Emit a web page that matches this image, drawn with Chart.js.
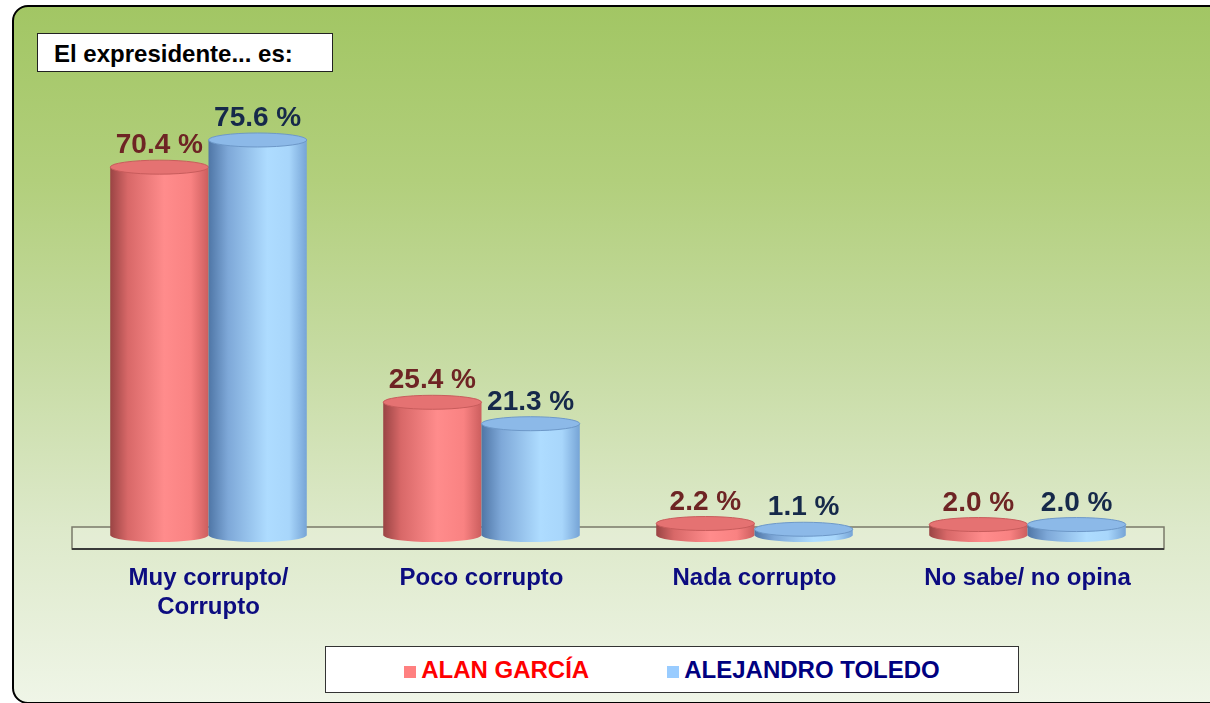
<!DOCTYPE html>
<html>
<head>
<meta charset="utf-8">
<script src="https://cdn.jsdelivr.net/npm/chart.js@4/dist/chart.umd.min.js"></script>
<style>
  html, body { margin: 0; padding: 0; width: 1210px; height: 703px; overflow: hidden; background: #fff; }
  #frame {
    position: absolute; left: 12px; top: 5px; width: 1220px; height: 695px;
    border: 2px solid #000; border-radius: 16px;
    background: linear-gradient(to bottom, #a2c664 0%, #b2cf7c 25%, #c6dba2 50%, #dde9ca 75%, #eff5e7 100%);
  }
  #wrap { position: absolute; left: 0; top: 0; width: 1210px; height: 703px; }
  #title {
    position: absolute; left: 37px; top: 33px; width: 296px; height: 39px;
    background: #fff; border: 1.5px solid #222; box-sizing: border-box;
    font: bold 24px "Liberation Sans", Arial, sans-serif; color: #000;
    padding-left: 16px; line-height: 40px;
  }
  #legend {
    position: absolute; left: 325px; top: 646px; width: 694px; height: 47px;
    background: #fff; border: 1.5px solid #333; box-sizing: border-box;
    display: flex; justify-content: center; align-items: center; gap: 78px;
    font: bold 24px "Liberation Sans", Arial, sans-serif;
  }
  #legend span.sw { display: inline-block; width: 12px; height: 12px; margin-right: 5px; }
</style>
</head>
<body>
<div id="frame"></div>
<div id="wrap"><canvas id="chart" width="1210" height="703"></canvas></div>
<div id="title">El expresidente... es:</div>
<div id="legend"></div>
<script>
// data
const categories = [['Muy corrupto/', 'Corrupto'], ['Poco corrupto'], ['Nada corrupto'], ['No sabe/ no opina']];
const seriesNames = ['ALAN GARCÍA', 'ALEJANDRO TOLEDO'];
const alanGarcia = [70.4, 25.4, 2.2, 2.0];
const alejandroToledo = [75.6, 21.3, 1.1, 2.0];

// styles
const swatch = ['#ff8080', '#99ccff'];
const legendText = ['#ff0000', '#000080'];
const labelColor = ['#6e2424', '#16294a'];
const bodyStops = [
  [[0, '#9a4444'], [0.18, '#d86868'], [0.55, '#ff8c8c'], [0.82, '#f98282'], [1, '#cc5e5e']],
  [[0, '#4f76a6'], [0.2, '#7ea8d8'], [0.6, '#aedcff'], [0.82, '#a8d6fb'], [1, '#76a4d6']]
];
const topColor = ['#e57272', '#8cb9e8'];
const topRim = ['#c85c5c', '#6d98c8'];
const RY = 7;

// legend (html)
const legendEl = document.getElementById('legend');
seriesNames.forEach((n, i) => {
  const d = document.createElement('div');
  d.style.color = legendText[i];
  d.innerHTML = '<span class="sw" style="background:' + swatch[i] + '"></span>' + n;
  legendEl.appendChild(d);
});

const floorPlugin = {
  id: 'floor',
  beforeDatasetsDraw(chart) {
    const ctx = chart.ctx, a = chart.chartArea;
    const base = chart.scales.y.getPixelForValue(0);
    ctx.save();
    ctx.fillStyle = 'rgba(255,255,255,0.18)';
    ctx.fillRect(a.left, base - 8, a.right - a.left, 22);
    ctx.strokeStyle = '#7a7a6a';
    ctx.lineWidth = 1.5;
    ctx.strokeRect(a.left, base - 8, a.right - a.left, 22);
    ctx.strokeStyle = '#3a3a3a';
    ctx.lineWidth = 2;
    ctx.beginPath();
    ctx.moveTo(a.left, base + 14);
    ctx.lineTo(a.right, base + 14);
    ctx.stroke();
    ctx.restore();
  }
};

const cylinderPlugin = {
  id: 'cylinders',
  afterDatasetsDraw(chart) {
    const ctx = chart.ctx;
    ctx.save();
    chart.data.datasets.forEach((ds, di) => {
      const meta = chart.getDatasetMeta(di);
      meta.data.forEach((bar, i) => {
        const p = bar.getProps(['x', 'y', 'base', 'width'], true);
        const l = p.x - p.width / 2, r = p.x + p.width / 2, rx = p.width / 2;
        const g = ctx.createLinearGradient(l, 0, r, 0);
        bodyStops[di].forEach(s => g.addColorStop(s[0], s[1]));
        ctx.beginPath();
        ctx.moveTo(l, p.y);
        ctx.lineTo(l, p.base);
        ctx.ellipse(p.x, p.base, rx, RY, 0, Math.PI, 0, true);
        ctx.lineTo(r, p.y);
        ctx.closePath();
        ctx.fillStyle = g;
        ctx.fill();
        ctx.beginPath();
        ctx.ellipse(p.x, p.y, rx, RY, 0, 0, Math.PI * 2);
        ctx.fillStyle = topColor[di];
        ctx.fill();
        ctx.strokeStyle = topRim[di];
        ctx.lineWidth = 1;
        ctx.stroke();
        ctx.fillStyle = labelColor[di];
        ctx.font = 'bold 28px "Liberation Sans", Arial, sans-serif';
        ctx.textAlign = 'center';
        ctx.textBaseline = 'alphabetic';
        ctx.fillText(ds.data[i].toFixed(1) + ' %', p.x, p.y - 14);
      });
    });
    // category labels
    const xs = chart.scales.x, base = chart.scales.y.getPixelForValue(0);
    ctx.fillStyle = '#0c0c80';
    ctx.font = 'bold 24px "Liberation Sans", Arial, sans-serif';
    ctx.textAlign = 'center';
    ctx.textBaseline = 'middle';
    categories.forEach((c, i) => {
      const x = xs.getPixelForValue(i);
      c.forEach((line, k) => ctx.fillText(line, x, base + 43 + k * 29));
    });
    ctx.restore();
  }
};

new Chart(document.getElementById('chart'), {
  type: 'bar',
  data: {
    labels: categories.map(c => c.join(' ')),
    datasets: [
      { label: seriesNames[0], data: alanGarcia, backgroundColor: 'transparent' },
      { label: seriesNames[1], data: alejandroToledo, backgroundColor: 'transparent' }
    ]
  },
  options: {
    responsive: false,
    animation: false,
    layout: { padding: { left: 72, right: 46, top: 117, bottom: 168 } },
    datasets: { bar: { categoryPercentage: 0.72, barPercentage: 1.0 } },
    scales: {
      x: { display: false },
      y: { display: false, min: 0, max: 80 }
    },
    plugins: { legend: { display: false }, tooltip: { enabled: false } }
  },
  plugins: [floorPlugin, cylinderPlugin]
});
</script>
</body>
</html>
